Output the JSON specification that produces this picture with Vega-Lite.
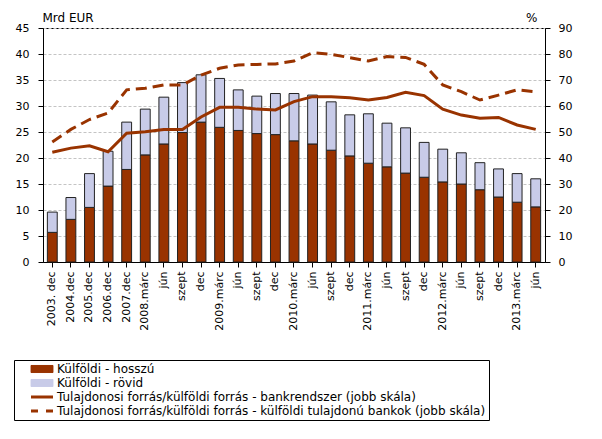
{
  "$schema": "https://vega.github.io/schema/vega-lite/v6.json",
  "width": 502,
  "height": 234,
  "autosize": {"type": "none"},
  "padding": {"left": 43, "top": 28, "right": 57, "bottom": 177},
  "config": {
    "font": "DejaVu Sans",
    "view": {"stroke": "black", "strokeWidth": 1},
    "axis": {
      "labelFont": "DejaVu Sans", "labelFontSize": 11, "labelColor": "black",
      "domainColor": "black", "tickColor": "black", "tickSize": 5,
      "titleFont": "DejaVu Sans", "titleFontSize": 12, "titleFontWeight": "normal", "titleColor": "black"
    }
  },
  "data": {"values": [
    {"period": "2003. dec", "series": "Külföldi - hosszú", "value": 5.7},
    {"period": "2003. dec", "series": "Külföldi - rövid", "value": 3.9},
    {"period": "2003. dec", "series": "Tulajdonosi forrás/külföldi forrás - bankrendszer (jobb skála)", "value": 42.2},
    {"period": "2003. dec", "series": "Tulajdonosi forrás/külföldi forrás - külföldi tulajdonú bankok (jobb skála)", "value": 46.2},
    {"period": "2004.dec", "series": "Külföldi - hosszú", "value": 8.2},
    {"period": "2004.dec", "series": "Külföldi - rövid", "value": 4.2},
    {"period": "2004.dec", "series": "Tulajdonosi forrás/külföldi forrás - bankrendszer (jobb skála)", "value": 43.8},
    {"period": "2004.dec", "series": "Tulajdonosi forrás/külföldi forrás - külföldi tulajdonú bankok (jobb skála)", "value": 51.0},
    {"period": "2005.dec", "series": "Külföldi - hosszú", "value": 10.5},
    {"period": "2005.dec", "series": "Külföldi - rövid", "value": 6.5},
    {"period": "2005.dec", "series": "Tulajdonosi forrás/külföldi forrás - bankrendszer (jobb skála)", "value": 44.7},
    {"period": "2005.dec", "series": "Tulajdonosi forrás/külföldi forrás - külföldi tulajdonú bankok (jobb skála)", "value": 54.8},
    {"period": "2006.dec", "series": "Külföldi - hosszú", "value": 14.6},
    {"period": "2006.dec", "series": "Külföldi - rövid", "value": 6.7},
    {"period": "2006.dec", "series": "Tulajdonosi forrás/külföldi forrás - bankrendszer (jobb skála)", "value": 42.4},
    {"period": "2006.dec", "series": "Tulajdonosi forrás/külföldi forrás - külföldi tulajdonú bankok (jobb skála)", "value": 57.3},
    {"period": "2007.dec", "series": "Külföldi - hosszú", "value": 17.8},
    {"period": "2007.dec", "series": "Külföldi - rövid", "value": 9.1},
    {"period": "2007.dec", "series": "Tulajdonosi forrás/külföldi forrás - bankrendszer (jobb skála)", "value": 49.5},
    {"period": "2007.dec", "series": "Tulajdonosi forrás/külföldi forrás - külföldi tulajdonú bankok (jobb skála)", "value": 66.2},
    {"period": "2008.márc", "series": "Külföldi - hosszú", "value": 20.6},
    {"period": "2008.márc", "series": "Külföldi - rövid", "value": 8.8},
    {"period": "2008.márc", "series": "Tulajdonosi forrás/külföldi forrás - bankrendszer (jobb skála)", "value": 50.1},
    {"period": "2008.márc", "series": "Tulajdonosi forrás/külföldi forrás - külföldi tulajdonú bankok (jobb skála)", "value": 66.8},
    {"period": "2008.jún", "series": "Külföldi - hosszú", "value": 22.7},
    {"period": "2008.jún", "series": "Külföldi - rövid", "value": 9.0},
    {"period": "2008.jún", "series": "Tulajdonosi forrás/külföldi forrás - bankrendszer (jobb skála)", "value": 51.0},
    {"period": "2008.jún", "series": "Tulajdonosi forrás/külföldi forrás - külföldi tulajdonú bankok (jobb skála)", "value": 68.1},
    {"period": "2008.szept", "series": "Külföldi - hosszú", "value": 24.9},
    {"period": "2008.szept", "series": "Külföldi - rövid", "value": 9.6},
    {"period": "2008.szept", "series": "Tulajdonosi forrás/külföldi forrás - bankrendszer (jobb skála)", "value": 51.0},
    {"period": "2008.szept", "series": "Tulajdonosi forrás/külföldi forrás - külföldi tulajdonú bankok (jobb skála)", "value": 68.1},
    {"period": "2008.dec", "series": "Külföldi - hosszú", "value": 26.9},
    {"period": "2008.dec", "series": "Külföldi - rövid", "value": 9.1},
    {"period": "2008.dec", "series": "Tulajdonosi forrás/külföldi forrás - bankrendszer (jobb skála)", "value": 55.8},
    {"period": "2008.dec", "series": "Tulajdonosi forrás/külföldi forrás - külföldi tulajdonú bankok (jobb skála)", "value": 71.9},
    {"period": "2009.márc", "series": "Külföldi - hosszú", "value": 25.9},
    {"period": "2009.márc", "series": "Külföldi - rövid", "value": 9.4},
    {"period": "2009.márc", "series": "Tulajdonosi forrás/külföldi forrás - bankrendszer (jobb skála)", "value": 59.5},
    {"period": "2009.márc", "series": "Tulajdonosi forrás/külföldi forrás - külföldi tulajdonú bankok (jobb skála)", "value": 74.5},
    {"period": "2009.jún", "series": "Külföldi - hosszú", "value": 25.3},
    {"period": "2009.jún", "series": "Külföldi - rövid", "value": 7.8},
    {"period": "2009.jún", "series": "Tulajdonosi forrás/külföldi forrás - bankrendszer (jobb skála)", "value": 59.5},
    {"period": "2009.jún", "series": "Tulajdonosi forrás/külföldi forrás - külföldi tulajdonú bankok (jobb skála)", "value": 75.8},
    {"period": "2009.szept", "series": "Külföldi - hosszú", "value": 24.7},
    {"period": "2009.szept", "series": "Külföldi - rövid", "value": 7.2},
    {"period": "2009.szept", "series": "Tulajdonosi forrás/külföldi forrás - bankrendszer (jobb skála)", "value": 58.8},
    {"period": "2009.szept", "series": "Tulajdonosi forrás/külföldi forrás - külföldi tulajdonú bankok (jobb skála)", "value": 76.0},
    {"period": "2009.dec", "series": "Külföldi - hosszú", "value": 24.5},
    {"period": "2009.dec", "series": "Külföldi - rövid", "value": 7.9},
    {"period": "2009.dec", "series": "Tulajdonosi forrás/külföldi forrás - bankrendszer (jobb skála)", "value": 58.5},
    {"period": "2009.dec", "series": "Tulajdonosi forrás/külföldi forrás - külföldi tulajdonú bankok (jobb skála)", "value": 76.2},
    {"period": "2010.márc", "series": "Külföldi - hosszú", "value": 23.3},
    {"period": "2010.márc", "series": "Külföldi - rövid", "value": 9.1},
    {"period": "2010.márc", "series": "Tulajdonosi forrás/külföldi forrás - bankrendszer (jobb skála)", "value": 61.7},
    {"period": "2010.márc", "series": "Tulajdonosi forrás/külföldi forrás - külföldi tulajdonú bankok (jobb skála)", "value": 77.3},
    {"period": "2010.jún", "series": "Külföldi - hosszú", "value": 22.7},
    {"period": "2010.jún", "series": "Külföldi - rövid", "value": 9.4},
    {"period": "2010.jún", "series": "Tulajdonosi forrás/külföldi forrás - bankrendszer (jobb skála)", "value": 63.6},
    {"period": "2010.jún", "series": "Tulajdonosi forrás/külföldi forrás - külföldi tulajdonú bankok (jobb skála)", "value": 80.5},
    {"period": "2010.szept", "series": "Külföldi - hosszú", "value": 21.5},
    {"period": "2010.szept", "series": "Külföldi - rövid", "value": 9.3},
    {"period": "2010.szept", "series": "Tulajdonosi forrás/külföldi forrás - bankrendszer (jobb skála)", "value": 63.6},
    {"period": "2010.szept", "series": "Tulajdonosi forrás/külföldi forrás - külföldi tulajdonú bankok (jobb skála)", "value": 79.9},
    {"period": "2010.dec", "series": "Külföldi - hosszú", "value": 20.4},
    {"period": "2010.dec", "series": "Külföldi - rövid", "value": 7.9},
    {"period": "2010.dec", "series": "Tulajdonosi forrás/külföldi forrás - bankrendszer (jobb skála)", "value": 63.2},
    {"period": "2010.dec", "series": "Tulajdonosi forrás/külföldi forrás - külföldi tulajdonú bankok (jobb skála)", "value": 78.6},
    {"period": "2011.márc", "series": "Külföldi - hosszú", "value": 19.0},
    {"period": "2011.márc", "series": "Külföldi - rövid", "value": 9.5},
    {"period": "2011.márc", "series": "Tulajdonosi forrás/külföldi forrás - bankrendszer (jobb skála)", "value": 62.3},
    {"period": "2011.márc", "series": "Tulajdonosi forrás/külföldi forrás - külföldi tulajdonú bankok (jobb skála)", "value": 77.3},
    {"period": "2011.jún", "series": "Külföldi - hosszú", "value": 18.3},
    {"period": "2011.jún", "series": "Külföldi - rövid", "value": 8.4},
    {"period": "2011.jún", "series": "Tulajdonosi forrás/külföldi forrás - bankrendszer (jobb skála)", "value": 63.3},
    {"period": "2011.jún", "series": "Tulajdonosi forrás/külföldi forrás - külföldi tulajdonú bankok (jobb skála)", "value": 79.0},
    {"period": "2011.szept", "series": "Külföldi - hosszú", "value": 17.1},
    {"period": "2011.szept", "series": "Külföldi - rövid", "value": 8.7},
    {"period": "2011.szept", "series": "Tulajdonosi forrás/külföldi forrás - bankrendszer (jobb skála)", "value": 65.3},
    {"period": "2011.szept", "series": "Tulajdonosi forrás/külföldi forrás - külföldi tulajdonú bankok (jobb skála)", "value": 78.7},
    {"period": "2011.dec", "series": "Külföldi - hosszú", "value": 16.3},
    {"period": "2011.dec", "series": "Külföldi - rövid", "value": 6.7},
    {"period": "2011.dec", "series": "Tulajdonosi forrás/külföldi forrás - bankrendszer (jobb skála)", "value": 64.0},
    {"period": "2011.dec", "series": "Tulajdonosi forrás/külföldi forrás - külföldi tulajdonú bankok (jobb skála)", "value": 76.0},
    {"period": "2012.márc", "series": "Külföldi - hosszú", "value": 15.4},
    {"period": "2012.márc", "series": "Külföldi - rövid", "value": 6.3},
    {"period": "2012.márc", "series": "Tulajdonosi forrás/külföldi forrás - bankrendszer (jobb skála)", "value": 58.8},
    {"period": "2012.márc", "series": "Tulajdonosi forrás/külföldi forrás - külföldi tulajdonú bankok (jobb skála)", "value": 68.1},
    {"period": "2012.jún", "series": "Külföldi - hosszú", "value": 15.0},
    {"period": "2012.jún", "series": "Külföldi - rövid", "value": 6.0},
    {"period": "2012.jún", "series": "Tulajdonosi forrás/külföldi forrás - bankrendszer (jobb skála)", "value": 56.5},
    {"period": "2012.jún", "series": "Tulajdonosi forrás/külföldi forrás - külföldi tulajdonú bankok (jobb skála)", "value": 65.5},
    {"period": "2012.szept", "series": "Külföldi - hosszú", "value": 13.9},
    {"period": "2012.szept", "series": "Külföldi - rövid", "value": 5.2},
    {"period": "2012.szept", "series": "Tulajdonosi forrás/külföldi forrás - bankrendszer (jobb skála)", "value": 55.3},
    {"period": "2012.szept", "series": "Tulajdonosi forrás/külföldi forrás - külföldi tulajdonú bankok (jobb skála)", "value": 62.3},
    {"period": "2012.dec", "series": "Külföldi - hosszú", "value": 12.5},
    {"period": "2012.dec", "series": "Külföldi - rövid", "value": 5.4},
    {"period": "2012.dec", "series": "Tulajdonosi forrás/külföldi forrás - bankrendszer (jobb skála)", "value": 55.6},
    {"period": "2012.dec", "series": "Tulajdonosi forrás/külföldi forrás - külföldi tulajdonú bankok (jobb skála)", "value": 64.2},
    {"period": "2013.márc", "series": "Külföldi - hosszú", "value": 11.5},
    {"period": "2013.márc", "series": "Külföldi - rövid", "value": 5.5},
    {"period": "2013.márc", "series": "Tulajdonosi forrás/külföldi forrás - bankrendszer (jobb skála)", "value": 52.7},
    {"period": "2013.márc", "series": "Tulajdonosi forrás/külföldi forrás - külföldi tulajdonú bankok (jobb skála)", "value": 66.2},
    {"period": "2013.jún", "series": "Külföldi - hosszú", "value": 10.6},
    {"period": "2013.jún", "series": "Külföldi - rövid", "value": 5.4},
    {"period": "2013.jún", "series": "Tulajdonosi forrás/külföldi forrás - bankrendszer (jobb skála)", "value": 51.0},
    {"period": "2013.jún", "series": "Tulajdonosi forrás/külföldi forrás - külföldi tulajdonú bankok (jobb skála)", "value": 65.5}
  ]},
  "encoding": {
    "x": {
      "field": "period", "type": "nominal", "sort": null,
      "scale": {"paddingInner": 0.47, "paddingOuter": 0.235},
      "axis": {
        "title": null, "labelAngle": -90, "labelPadding": 4,
        "labelExpr": "test(regexp('márc|^200[3-7]'), datum.value) ? datum.value : slice(datum.value, 5)"
      }
    },
    "color": {
      "field": "series", "type": "nominal",
      "scale": {
        "domain": ["Külföldi - hosszú", "Külföldi - rövid", "Tulajdonosi forrás/külföldi forrás - bankrendszer (jobb skála)", "Tulajdonosi forrás/külföldi forrás - külföldi tulajdonú bankok (jobb skála)"],
        "range": ["#993300", "#c8cbe8", "#993300", "#993300"]
      },
      "legend": {
        "title": null, "orient": "none", "legendX": -29, "legendY": 332,
        "strokeColor": "black", "padding": 3, "labelLimit": 600,
        "labelFont": "DejaVu Sans", "labelFontSize": 12, "labelColor": "black",
        "encode": {
          "symbols": {
            "update": {
              "x": {"value": 25},
              "shape": {"signal": "test(regexp('^Külföldi'), datum.value) ? 'M-2,-0.64H2V0.64H-2Z' : 'M-2,0H2'"},
              "size": {"value": 121},
              "fill": {"signal": "datum.value === 'Külföldi - hosszú' ? '#993300' : datum.value === 'Külföldi - rövid' ? '#c8cbe8' : 'transparent'"},
              "fillOpacity": {"value": 1},
              "stroke": {"signal": "test(regexp('^Külföldi'), datum.value) ? '#222222' : '#993300'"},
              "strokeWidth": {"signal": "test(regexp('^Külföldi'), datum.value) ? 1 : 3"},
              "strokeDash": {"signal": "test(regexp('bankok'), datum.value) ? [7, 8] : [1, 0]"}
            }
          },
          "labels": {
            "update": {"x": {"value": 40}}
          }
        }
      }
    }
  },
  "layer": [
    {
      "transform": [
        {"filter": "test(regexp('^Külföldi'), datum.series)"},
        {"stack": "value", "groupby": ["period"], "sort": [{"field": "series", "order": "ascending"}], "as": ["v0", "v1"]}
      ],
      "mark": {"type": "bar", "stroke": "#222222", "strokeWidth": 1},
      "encoding": {
        "y": {
          "field": "v0", "type": "quantitative",
          "scale": {"domain": [0, 45], "nice": false},
          "axis": {
            "orient": "left", "values": [0, 5, 10, 15, 20, 25, 30, 35, 40, 45],
            "grid": true, "gridColor": "#c4c4c4", "gridDash": [3, 2],
            "labelPadding": 9,
            "title": "Mrd EUR", "titleAngle": 0, "titleAlign": "left", "titleBaseline": "alphabetic",
            "titleX": -1, "titleY": -7
          }
        },
        "y2": {"field": "v1"}
      }
    },
    {
      "transform": [{"filter": "test(regexp('bankrendszer'), datum.series)"}],
      "mark": {"type": "line", "strokeWidth": 3},
      "encoding": {
        "y": {
          "field": "value", "type": "quantitative",
          "scale": {"domain": [0, 90], "nice": false},
          "axis": {
            "orient": "right", "values": [0, 10, 20, 30, 40, 50, 60, 70, 80, 90],
            "grid": false, "labelPadding": 8,
            "title": "%", "titleAngle": 0, "titleAlign": "right", "titleBaseline": "alphabetic",
            "titleX": -8, "titleY": -7
          }
        }
      }
    },
    {
      "transform": [{"filter": "test(regexp('bankok'), datum.series)"}],
      "mark": {"type": "line", "strokeWidth": 3, "strokeDash": [11, 6]},
      "encoding": {
        "y": {
          "field": "value", "type": "quantitative",
          "scale": {"domain": [0, 90], "nice": false},
          "axis": null
        }
      }
    }
  ],
  "resolve": {"scale": {"y": "independent"}}
}
